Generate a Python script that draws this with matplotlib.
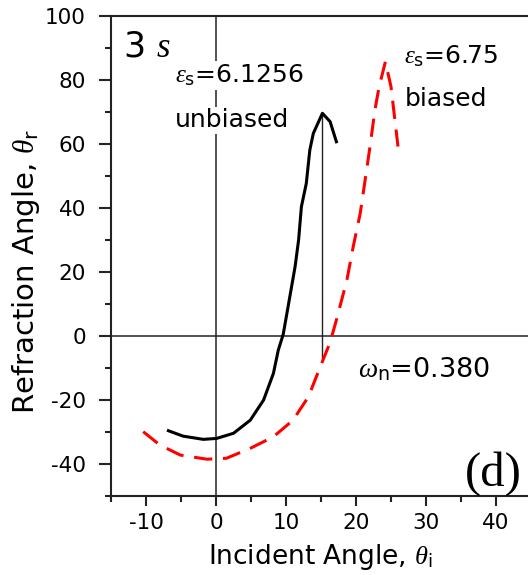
import matplotlib
matplotlib.use("Agg")
import matplotlib.pyplot as plt

plt.rcParams['font.family'] = ['DejaVu Sans']
plt.rcParams['axes.unicode_minus'] = False
plt.rcParams['mathtext.fontset'] = 'custom'
plt.rcParams['mathtext.rm'] = 'DejaVu Sans'
plt.rcParams['mathtext.sf'] = 'DejaVu Sans'
plt.rcParams['mathtext.it'] = 'Liberation Serif:italic'
plt.rcParams['mathtext.bf'] = 'DejaVu Sans:bold'

# unbiased case (eps_s = 6.1256): incident vs refraction angle
unb_inc = [-6.8, -4.7, -1.8, 0.1, 2.5, 4.9, 6.8, 8.2, 8.9, 9.6, 10.3, 11.3, 11.8,
           12.2, 12.9, 13.4, 13.9, 15.2, 16.3, 17.2]
unb_ref = [-29.6, -31.3, -32.3, -32.0, -30.4, -26.3, -20.0, -11.7, -4.4, 0.5, 9.2,
           21.7, 30.0, 40.4, 47.7, 58.1, 63.3, 69.6, 67.0, 60.7]

# biased case (eps_s = 6.75)
bia_inc = [-10.4, -8.0, -5.1, -1.3, 1.5, 4.9, 8.2, 11.0, 13.2, 14.9, 16.3, 17.2,
           18.7, 19.6, 20.6, 21.3, 22.0, 22.7, 23.3, 24.2, 25.0, 26.0]
bia_ref = [-29.9, -34.1, -37.2, -38.5, -38.2, -35.1, -31.5, -26.3, -19.0, -9.6,
           -2.0, 5.0, 17.5, 27.9, 38.3, 48.7, 59.2, 70.6, 77.9, 85.7, 77.9, 59.2]

# marker line at the unbiased peak
peak_inc = 15.2
peak_lo, peak_hi = -7.0, 69.6

x_ticks = [-10, 0, 10, 20, 30, 40]
y_ticks = [-40, -20, 0, 20, 40, 60, 80, 100]

fig = plt.figure(figsize=(5.28, 5.75), dpi=100)
ax = fig.add_axes([111 / 528, 1 - 496 / 575, (531 - 111) / 528, (496 - 16) / 575])

ax.axhline(0, color='#222222', lw=1.1, zorder=1)
ax.axvline(0, color='#222222', lw=1.1, zorder=1)
ax.plot([peak_inc, peak_inc], [peak_lo, peak_hi], color='#222222', lw=1.0, zorder=1)

ax.plot(unb_inc, unb_ref, color='black', lw=2.2, zorder=3)
ax.plot(bia_inc, bia_ref, color='#ff0000', lw=2.2, dashes=(6, 3.5), zorder=3)

ax.set_xlim(-15, 45)
ax.set_ylim(-50, 100)
ax.set_xticks(x_ticks)
ax.set_yticks(y_ticks)
ax.set_xticks([-15, -5, 5, 15, 25, 35], minor=True)
ax.set_yticks([-50, -30, -10, 10, 30, 50, 70, 90], minor=True)
ax.tick_params(which='both', direction='out', width=1.5, color='#222222')
ax.tick_params(axis='y', which='major', length=9, labelsize=15.5, pad=9)
ax.tick_params(axis='x', which='major', length=7, labelsize=15.5, pad=5)
ax.tick_params(which='minor', length=4)
for side in ('left', 'bottom', 'top'):
    ax.spines[side].set_linewidth(1.5)
    ax.spines[side].set_color('#222222')
ax.spines['right'].set_visible(False)

ax.set_xlabel(r'Incident Angle, $\theta_\mathrm{i}$', fontsize=19)
ax.set_ylabel(r'Refraction Angle, $\theta_\mathrm{r}$', fontsize=21)
ax.xaxis.set_label_coords(0.498, -0.095)
ax.yaxis.set_label_coords(-0.165, 0.469)

box = dict(facecolor='white', edgecolor='none', pad=1)
ax.text(-13.3, 87.2, r'3 $s$', fontsize=25, va='baseline', ha='left')
ax.text(-5.86, 79.1, r'$\varepsilon_\mathrm{s}$=6.1256', fontsize=18, va='baseline',
        ha='left', bbox=box)
ax.text(-5.86, 65.3, 'unbiased', fontsize=18, va='baseline', ha='left', bbox=box)
ax.text(26.9, 85.3, r'$\varepsilon_\mathrm{s}$=6.75', fontsize=18, va='baseline', ha='left')
ax.text(26.9, 71.9, 'biased', fontsize=18, va='baseline', ha='left')
ax.text(20.3, -12.8, r'$\omega_\mathrm{n}$=0.380', fontsize=19.5, va='baseline', ha='left')
ax.text(43.7, -46.6, '(d)', fontsize=35, va='baseline', ha='right',
        family='Liberation Serif')

fig.savefig('out.png', dpi=100)
